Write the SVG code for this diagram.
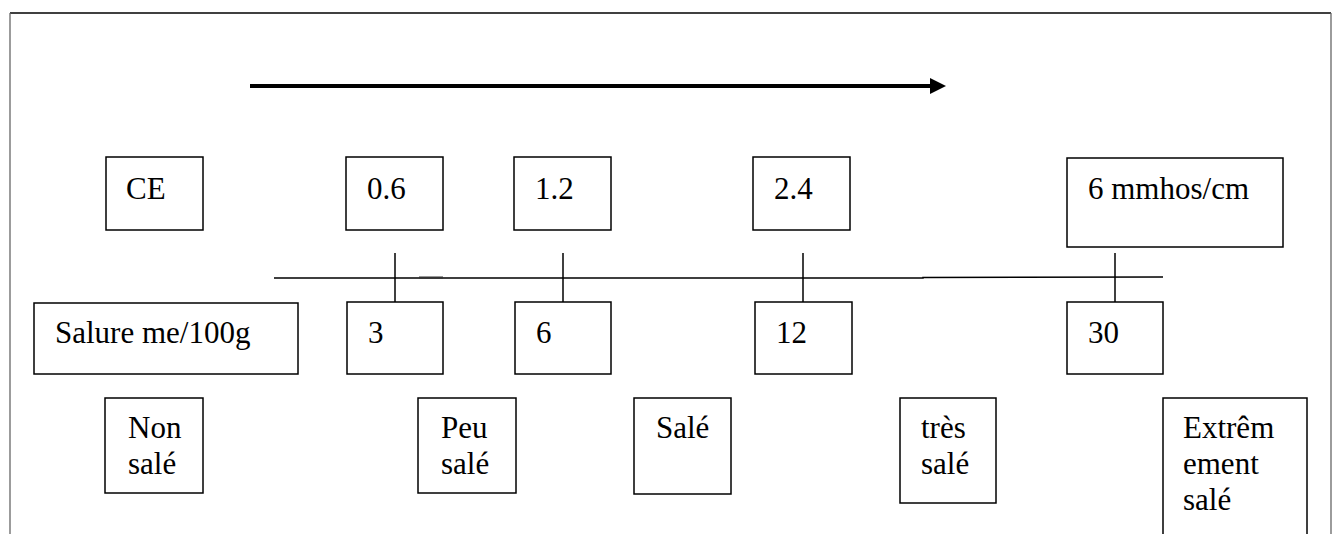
<svg xmlns="http://www.w3.org/2000/svg" width="1339" height="534" viewBox="0 0 1339 534">
<style>
.b{fill:#fff;stroke:#000;stroke-width:1.5}
text{font-family:'Liberation Serif','Times New Roman',serif;font-size:31px;fill:#000}
.c{stroke:#000;stroke-width:1.5;fill:none}
</style>
<rect x="0" y="0" width="1339" height="534" fill="#fff"/>
<g id="frame">
<line x1="10" y1="13" x2="1331" y2="13" stroke="#000" stroke-width="1.3"/>
<line x1="10" y1="13" x2="10" y2="534" stroke="#666" stroke-width="1.3"/>
<line x1="1331" y1="13" x2="1331" y2="534" stroke="#666" stroke-width="1.3"/>
</g>
<g id="connectors">
<line x1="250" y1="86" x2="931" y2="86" stroke="#000" stroke-width="4"/>
<polygon points="930,78 946,86 930,94" fill="#000"/>
<polyline class="c" points="274,278 923,278 923,277.5 1163,277"/>
<line x1="419" y1="277.5" x2="443" y2="277.5" stroke="#333" stroke-width="2"/>
<line class="c" x1="395" y1="253" x2="395" y2="302"/>
<line class="c" x1="563" y1="253" x2="563" y2="302"/>
<line class="c" x1="803" y1="253" x2="803" y2="302"/>
<line class="c" x1="1115" y1="253" x2="1115" y2="302"/>
</g>
<g id="ce"><rect class="b" x="106" y="157" width="97" height="73"/><text x="126" y="199">CE</text></g>
<g id="ce06"><rect class="b" x="346" y="157" width="97" height="73"/><text x="367" y="199">0.6</text></g>
<g id="ce12"><rect class="b" x="514" y="157" width="97" height="73"/><text x="535" y="199">1.2</text></g>
<g id="ce24"><rect class="b" x="753" y="157" width="97" height="73"/><text x="774" y="199">2.4</text></g>
<g id="ce6"><rect class="b" x="1067" y="158" width="216" height="89"/><text x="1088" y="199">6 mmhos/cm</text></g>
<g id="salure"><rect class="b" x="34" y="303" width="264" height="71"/><text x="55" y="343">Salure me/100g</text></g>
<g id="s3"><rect class="b" x="347" y="302" width="96" height="72"/><text x="368" y="343">3</text></g>
<g id="s6"><rect class="b" x="515" y="302" width="96" height="72"/><text x="536" y="343">6</text></g>
<g id="s12"><rect class="b" x="755" y="302" width="97" height="72"/><text x="776" y="343">12</text></g>
<g id="s30"><rect class="b" x="1067" y="302" width="96" height="72"/><text x="1088" y="343">30</text></g>
<g id="nonsale"><rect class="b" x="105" y="398" width="98" height="95"/><text x="128" y="438">Non</text><text x="128" y="474">salé</text></g>
<g id="peusale"><rect class="b" x="418" y="398" width="98" height="95"/><text x="441" y="438">Peu</text><text x="441" y="474">salé</text></g>
<g id="sale"><rect class="b" x="634" y="398" width="97" height="96"/><text x="656" y="438">Salé</text></g>
<g id="tressale"><rect class="b" x="900" y="398" width="96" height="105"/><text x="921" y="438">très</text><text x="921" y="474">salé</text></g>
<g id="extreme"><rect class="b" x="1163" y="398" width="144" height="150"/><text x="1183" y="438">Extrêm</text><text x="1183" y="474">ement</text><text x="1183" y="510">salé</text></g>
</svg>
